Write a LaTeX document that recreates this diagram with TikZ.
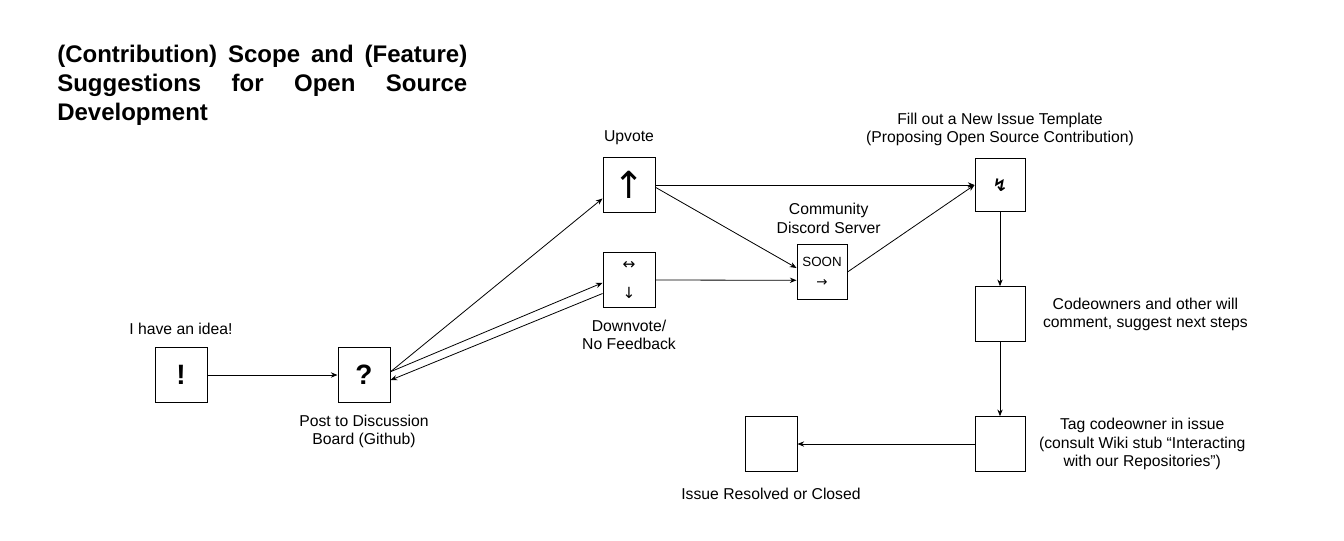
\documentclass[tikz,border=0pt]{standalone}
\usepackage{fontspec}
\setmainfont{Liberation Sans}
\newfontfamily\symfont{DejaVu Sans}
\usetikzlibrary{arrows.meta,positioning}

\tikzset{
  box/.style={draw, line width=0.75pt, minimum width=39pt, minimum height=41pt, inner sep=0pt},
  lbl/.style={align=center, font=\fontsize{11.8}{13.6}\selectfont, inner sep=0pt},
  link/.style={line width=0.6pt, -{Stealth[length=5pt, width=4pt]}},
}

\begin{document}
\begin{tikzpicture}[x=0.75pt, y=-0.75pt]
\useasboundingbox (0,0) rectangle (1344,540);
% title
\node[anchor=north west, inner sep=0pt, align=left,
      font=\fontsize{18}{21.75}\selectfont\bfseries] (title) at (57,45)
  {\makebox[307.5pt][s]{(Contribution) Scope and (Feature)}\\
   \makebox[307.5pt][s]{Suggestions for Open Source}\\
   Development};
% boxes
\node[box, font=\fontsize{21}{24}\selectfont\bfseries] (idea) at (181,375) {!};
\node[box, font=\fontsize{21}{24}\selectfont\bfseries] (post) at (364,375) {?};
\node[box, font=\symfont\fontsize{28}{28}\selectfont] (up) at (629,185) {↑};
\node[box, align=center, font=\symfont\fontsize{11.5}{22}\selectfont] (down) at (629,280) {↔\\↓};
\node[box, minimum width=37.5pt, align=center, font=\fontsize{10}{15}\selectfont] (soon) at (822,272) {SOON\\{\symfont →}};
\node[box, minimum width=37.5pt, minimum height=40pt, font=\symfont\bfseries\fontsize{13}{13}\selectfont] (issue) at (1000,185) {↯};
\node[box, minimum width=37.5pt] (comment) at (1000,314) {};
\node[box, minimum width=37.5pt] (tag) at (1000,444) {};
\node[box] (closed) at (771,444) {};
% labels
\node[lbl, above=9pt of idea] (ideaT) {I have an idea!};
\node[lbl, below=9pt of post] (postT) {Post to Discussion\\Board (Github)};
\node[lbl, above=9pt of up] (upT) {Upvote};
\node[lbl, below=9pt of down] (downT) {Downvote/\\No Feedback};
\node[lbl, above=8pt of soon, xshift=5pt] (soonT) {Community\\Discord Server};
\node[lbl, above=9pt of issue] (issueT) {Fill out a New Issue Template\\(Proposing Open Source Contribution)};
\node[lbl, right=13pt of comment] (commentT) {Codeowners and other will\\comment, suggest next steps};
\node[lbl, right=10pt of tag] (tagT) {Tag codeowner in issue\\(consult Wiki stub “Interacting\\with our Repositories”)};
\node[lbl, below=12pt of closed] (closedT) {Issue Resolved or Closed};
% connectors
\draw[link] (idea.east) -- (post.west);
\draw[link] (post.7) -- (up.207);
\draw[link] (post.7) -- (down.186);
\draw[link] (down.207) -- (post.-11);
\draw[link] (up.east) -- (issue.west);
\draw[link] (up.-5) -- (soon.171);
\draw[link] (down.east) -- (soon.198);
\draw[link] (soon.east) -- (issue.west);
\draw[link] (issue.south) -- (comment.north);
\draw[link] (comment.south) -- (tag.north);
\draw[link] (tag.west) -- (closed.east);
\end{tikzpicture}
\end{document}
